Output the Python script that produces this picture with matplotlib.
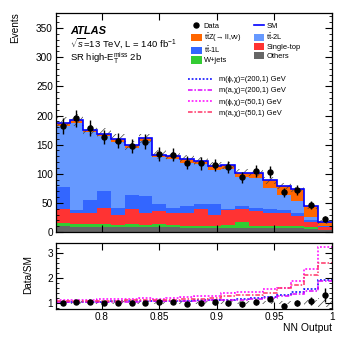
import numpy as np
import matplotlib
matplotlib.use("Agg")
import matplotlib.pyplot as plt
from matplotlib.ticker import MultipleLocator, FixedLocator, FixedFormatter
from matplotlib.patches import Patch
from matplotlib.lines import Line2D

plt.rcParams['font.family'] = ['Liberation Sans', 'DejaVu Sans']
plt.rcParams['mathtext.fontset'] = 'custom'
plt.rcParams['mathtext.rm'] = 'Liberation Sans'
plt.rcParams['mathtext.it'] = 'Liberation Sans:italic'
plt.rcParams['mathtext.bf'] = 'Liberation Sans:bold'
plt.rcParams['hatch.linewidth'] = 0.5

# binning of the NN output
edges = np.linspace(0.76, 1.0, 21)

# background stack (events per bin), bottom to top
others = [10, 9, 9, 9, 8, 9, 8, 8, 8, 7, 7, 7, 7, 7, 7, 7, 7, 7, 5, 3]
wjets = [5, 4, 4, 5, 4, 5, 4, 5, 4, 4, 4, 4, 5, 11, 4, 4, 4, 4, 3, 1]
single_top = [25, 19, 19, 28, 17, 25, 20, 23, 21, 21, 28, 18, 25, 21, 25, 22, 22, 17, 9, 4]
tt_1l = [37, 6, 23, 29, 13, 24, 30, 12, 9, 13, 9, 19, 3, 6, 5, 6, 4, 4, 3, 2]
tt_2l = [105, 150, 116, 94, 113, 82, 94, 80, 84, 74, 68, 59, 68, 49, 52, 36, 27, 21, 6, 1]
ttz = [5, 4, 4, 4, 5, 4, 5, 5, 5, 6, 6, 7, 7, 8, 9, 14, 15, 20, 18, 6]
sm_unc = [10, 10, 9, 9, 8, 8, 8, 7, 7, 7, 7, 6, 6, 6, 6, 6, 5, 5, 4, 3]

data = [182, 195, 179, 163, 157, 148, 155, 134, 133, 119, 118, 115, 111, 94, 104, 103, 68, 72, 47, 22]

# (SM + signal) / SM for the four benchmark points
r_phi200 = [1.03, 1.03, 1.04, 1.04, 1.05, 1.05, 1.06, 1.06, 1.07, 1.08, 1.09, 1.10, 1.12, 1.14, 1.17, 1.22, 1.32, 1.42, 1.55, 1.92]
r_a200 = [1.02, 1.02, 1.03, 1.03, 1.04, 1.04, 1.05, 1.05, 1.06, 1.07, 1.08, 1.09, 1.10, 1.12, 1.15, 1.20, 1.28, 1.36, 1.48, 1.85]
r_phi50 = [1.10, 1.10, 1.12, 1.13, 1.13, 1.15, 1.18, 1.15, 1.20, 1.22, 1.25, 1.27, 1.40, 1.42, 1.42, 1.55, 1.60, 1.88, 2.35, 3.22]
r_a50 = [1.05, 1.06, 1.07, 1.07, 1.08, 1.09, 1.10, 1.09, 1.12, 1.14, 1.16, 1.18, 1.28, 1.30, 1.32, 1.40, 1.58, 1.70, 2.12, 2.60]

bkg = [others, wjets, single_top, tt_1l, tt_2l, ttz]
bkg_colors = ['#666666', '#33CC33', '#FF3333', '#3366FF', '#6699FF', '#FF6600']
bkg_labels = ['Others', 'W+jets', 'Single-top', r't$\bar{\rm t}$-1L', r't$\bar{\rm t}$-2L',
              r't$\bar{\rm t}$Z(→ ll,νν)']

sig_styles = [
    (r_phi200, '#0000FF', (0, (1.2, 1.2)), 'm(ϕ,χ)=(200,1) GeV'),
    (r_a200, '#DD00FF', (0, (3, 1.2, 1, 1.2)), 'm(a,χ)=(200,1) GeV'),
    (r_phi50, '#FF00FF', (0, (1.2, 1.2)), 'm(ϕ,χ)=(50,1) GeV'),
    (r_a50, '#FF3366', (0, (3, 1.2, 1, 1.2)), 'm(a,χ)=(50,1) GeV'),
]

W, H = 349, 340
fig = plt.figure(figsize=(W / 100, H / 100), dpi=100)
ax = fig.add_axes([55.7 / W, 1 - 232 / H, (332 - 55.7) / W, (232 - 13) / H])
rax = fig.add_axes([55.7 / W, 1 - 309 / H, (332 - 55.7) / W, (309 - 242.7) / H])

centers = 0.5 * (edges[1:] + edges[:-1])
width = edges[1] - edges[0]

# stacked backgrounds
bottom = np.zeros(len(centers))
for vals, col in zip(bkg, bkg_colors):
    vals = np.array(vals, dtype=float)
    ax.stairs(bottom + vals, edges, baseline=bottom, fill=True, color=col, lw=0)
    bottom = bottom + vals
sm = bottom
unc = np.array(sm_unc, dtype=float)

ax.bar(centers, 2 * unc, bottom=sm - unc, width=width, fill=False, hatch='////',
       edgecolor='#444444', lw=0)
ax.stairs(sm, edges, baseline=None, color='#0000FF', lw=1.2)

data = np.array(data, dtype=float)
ax.errorbar(centers, data, yerr=np.sqrt(data), fmt='o', color='black', ms=3.6,
            elinewidth=1.0, capsize=0)

ax.set_xlim(0.76, 1.0)
ax.set_ylim(0, 376)
ax.yaxis.set_major_locator(MultipleLocator(50))
ax.yaxis.set_minor_locator(MultipleLocator(10))
ax.xaxis.set_major_locator(MultipleLocator(0.05))
ax.tick_params(labelbottom=False)

# ratio panel
rax.bar(centers, 2 * unc / sm, bottom=1 - unc / sm, width=width, fill=False, hatch='////',
        edgecolor='#444444', lw=0)
for vals, col, ls, lab in sig_styles:
    rax.stairs(vals, edges, baseline=None, color=col, ls=ls, lw=1.1)
rax.errorbar(centers, data / sm, yerr=np.sqrt(data) / sm, fmt='o', color='black', ms=3.6,
             elinewidth=1.0, capsize=0)
rax.set_xlim(0.76, 1.0)
rax.set_ylim(0.74, 3.4)
rax.yaxis.set_major_locator(MultipleLocator(1))
rax.yaxis.set_minor_locator(MultipleLocator(0.2))
xt = [0.8, 0.85, 0.9, 0.95, 1.0]
rax.xaxis.set_major_locator(FixedLocator(xt))
rax.xaxis.set_major_formatter(FixedFormatter(['0.8', '0.85', '0.9', '0.95', '1']))

for a in (ax, rax):
    a.tick_params(which='both', direction='in', top=True, right=True, labelsize=7.2, pad=2)
    a.tick_params(which='major', length=5, width=0.8)
    a.tick_params(which='minor', length=2.5, width=0.6)
    for s in a.spines.values():
        s.set_linewidth(0.9)

fig.text(14.7 / W, 1 - 12 / H, 'Events', rotation=90, ha='center', va='top', fontsize=7.2)
fig.text(28 / W, 1 - 275 / H, 'Data/SM', rotation=90, ha='center', va='center', fontsize=7.2)
fig.text(331.7 / W, 1 - 328 / H, 'NN Output', ha='right', va='center', fontsize=7.5)

ax.text(70.5 / W, 1 - 31.5 / H, 'ATLAS', transform=fig.transFigure, fontsize=8,
        fontweight='bold', fontstyle='italic', va='center')
ax.text(70 / W, 1 - 43 / H, r'$\sqrt{s}$=13 TeV, L = 140 fb$^{-1}$', transform=fig.transFigure,
        fontsize=6.8, va='center')
ax.text(70 / W, 1 - 58 / H, r'SR high-E$_{\rm T}^{\rm miss}$ 2b', transform=fig.transFigure,
        fontsize=6.8, va='center')

# legends
h_data = Line2D([], [], marker='o', color='black', ls='none', ms=3.6)
h_sm = Line2D([], [], color='#0000FF', lw=1.2)
p = {lab: Patch(facecolor=c, edgecolor='none') for lab, c in zip(bkg_labels, bkg_colors)}
handles = [h_data, p[bkg_labels[5]], p[bkg_labels[3]], p[bkg_labels[1]],
           h_sm, p[bkg_labels[4]], p[bkg_labels[2]], p[bkg_labels[0]]]
labels = ['Data', bkg_labels[5], bkg_labels[3], bkg_labels[1],
          'SM', bkg_labels[4], bkg_labels[2], bkg_labels[0]]
leg1 = ax.legend(handles, labels, ncol=2,
                 loc='upper left', bbox_to_anchor=(191 / W, 1 - 22 / H),
                 bbox_transform=fig.transFigure, frameon=False, fontsize=5.4,
                 handlelength=1.4, handleheight=1.1, handletextpad=0.3,
                 labelspacing=0.15, columnspacing=1.6, borderpad=0, borderaxespad=0)
ax.add_artist(leg1)
sh = [Line2D([], [], color=c, ls=ls, lw=1.1) for _, c, ls, _ in sig_styles]
sl = [lab for _, _, _, lab in sig_styles]
ax.legend(sh, sl, loc='upper left', bbox_to_anchor=(188 / W, 1 - 76 / H),
          bbox_transform=fig.transFigure, frameon=False, fontsize=5.4,
          handlelength=3.2, handletextpad=0.9, labelspacing=0.52, borderpad=0, borderaxespad=0)

fig.savefig('out.png', dpi=100)
